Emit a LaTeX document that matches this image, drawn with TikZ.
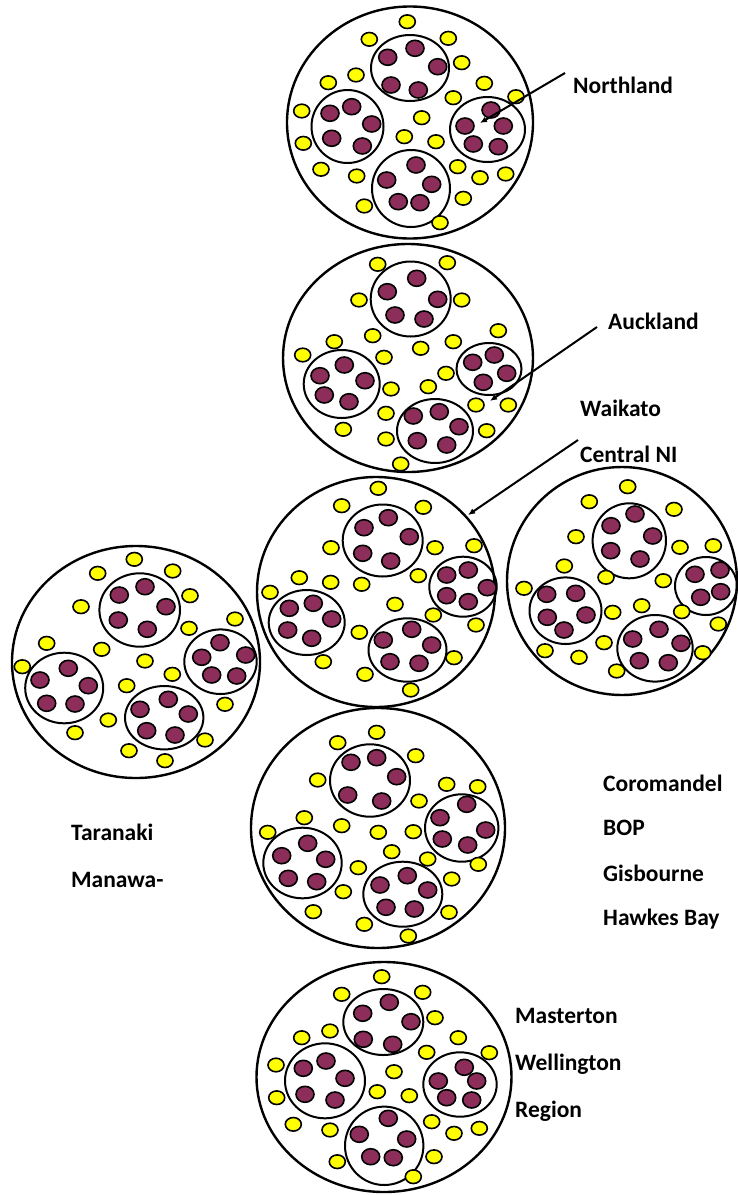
\documentclass[tikz,border=0pt]{standalone}
\usepackage{fontspec}
\setmainfont{Carlito}
\usetikzlibrary{arrows.meta}
\definecolor{yel}{RGB}{255,255,0}
\definecolor{plum}{RGB}{140,45,90}
\tikzset{
  outer/.style={draw=black,line width=2.4pt},
  inner/.style={draw=black,line width=2pt},
  ydot/.style={draw=black,fill=yel,line width=1.6pt},
  pdot/.style={draw=black,fill=plum,line width=1.6pt},
  lbl/.style={anchor=base west,inner sep=0pt,font=\fontsize{23.5}{28}\selectfont\bfseries},
  pointer/.style={draw=black,line width=2pt,-{Latex[length=7pt,width=6pt]}}
}
\newcommand{\ydots}[1]{\foreach \px/\py in {#1} \path[ydot] (\px,\py) ellipse [x radius=8pt,y radius=6.8pt];}
\newcommand{\pdots}[1]{\foreach \px/\py in {#1} \path[pdot] (\px,\py) ellipse [x radius=9pt,y radius=8pt];}
\begin{document}
\begin{tikzpicture}[x=1pt,y=-1pt]
\useasboundingbox (0,0) rectangle (738,1195);
\fill[white] (0,0) rectangle (738,1195);
% ---------- Circle 1 : Northland ----------
\path[outer] (410,122.5) ellipse [x radius=123pt,y radius=116pt];
\path[inner] (410,68) ellipse [x radius=39pt,y radius=33pt];
\path[inner] (347.5,126.5) ellipse [x radius=36pt,y radius=36.5pt];
\path[inner] (487.5,129.5) ellipse [x radius=37.5pt,y radius=32.5pt];
\path[inner] (411,188.5) ellipse [x radius=39pt,y radius=38.5pt];
\pdots{415/48.3,387.7/57.3,437.7/66.7,391/85,418.3/90,
351.7/106.7,330/113.3,371.7/124,331.7/138.3,362.3/146,
491/110,465/126,503.3/126,473.3/144,498.3/146.7,
416/165,386.7/180,431.7/184.3,398.3/201.7,420/202.7}
\ydots{407.3/21.7,369.3/39.3,448.3/38.3,356/75,461.7/62.7,328.3/82.7,484.3/83.3,453.3/97.7,516/96.7,301.7/111,421.7/117.7,303.3/143.3,404.3/136.7,436/141.7,321/169.3,356.7/176,457.7/166.7,480/177.7,505.7/174,364.3/206,463.3/198.3,440/222.7}
% ---------- Circle 2 : Auckland ----------
\path[outer] (408,358) ellipse [x radius=125pt,y radius=114pt];
\path[inner] (410.7,299) ellipse [x radius=40pt,y radius=37.5pt];
\path[inner] (341.7,384) ellipse [x radius=38pt,y radius=34pt];
\path[inner] (489,369) ellipse [x radius=32.5pt,y radius=26pt];
\path[inner] (435,431) ellipse [x radius=38pt,y radius=32pt];
\pdots{416.7/278.3,387.3/291.7,437.7/299.3,395/315,424/319,
344.3/365,320/375.7,365/380.7,324.3/395,349/401.7,
494.3/355,472.7/362.3,506.7/373.3,483.3/382.3,
439.3/411.7,413.3/416,459/426.7,417.3/440.7,446.7/445}
\ydots{377.7/264.3,447.3/262.7,359/300,461.7/300,372.7/335.7,334.3/341.7,453.3/341.7,420.7/348.3,498.3/330.7,302.7/355,384/357.3,446/373.3,391/389,428.3/386.7,386/413.3,476/405,508.3/405,343.3/429.3,386/439,486.7/430.7,400.7/464}
% ---------- Circle 3 : Central ----------
\path[outer] (376,592) ellipse [x radius=119pt,y radius=115pt];
\path[inner] (382.7,540.5) ellipse [x radius=40pt,y radius=36pt];
\path[inner] (463,586.7) ellipse [x radius=33.7pt,y radius=30pt];
\path[inner] (306.7,622.5) ellipse [x radius=38pt,y radius=32.5pt];
\path[inner] (407.5,650) ellipse [x radius=39pt,y radius=31.7pt];
\pdots{388.3/517.7,364/527.7,409.3/536.7,362.7/553.3,390.7/561,
446.7/575,468.3/570,487.3/587.7,446.7/595.7,468.3/601.7,
289.3/608.3,313.3/603.3,331.7/619,287.7/630,311.7/638.3,
411.7/629.3,383.3/640,431.7/645,390/661.7,419/663.3}
\ydots{378.3/488.3,341.7/505.7,423.3/507.3,331/547.7,435/547.7,474/545.7,299.3/577.7,330.7/582.3,361.7/584.3,418.3/575.7,270/592.3,395/604.3,433.3/615,476/625,359.3/632.3,323.3/661.7,454/657.7,365/674.3,410.7/690}
% ---------- Circle 4 : right ----------
\path[outer] (622,581) ellipse [x radius=115pt,y radius=114pt];
\path[inner] (629.3,540.8) ellipse [x radius=36.7pt,y radius=37.5pt];
\path[inner] (706,586) ellipse [x radius=31pt,y radius=29pt];
\path[inner] (565.5,610.7) ellipse [x radius=36pt,y radius=33.3pt];
\path[inner] (655,648.3) ellipse [x radius=37.7pt,y radius=33.3pt];
\pdots{635/514,611/525.7,652.7/536,610.7/550.7,640/559,
695/574.3,720/570,720.7/591.7,700.7/597.3,
546.7/594.3,575.7/593.3,547.3/617.3,586/615,564/630,
659/629.3,632.7/639,681/643.3,639.3/660.7,668.3/662.7}
\ydots{627.7/486.7,589.3/501.7,674/509.3,576/536.7,680/547.3,713.3/545.7,564.3/566,606/577.3,663.3/580.7,524/588.3,612.7/612.3,641.7/605.7,681.7/611.7,718.3/624,545/650.7,579/657.3,604/642.7,702.7/652.7,616.7/671}
% ---------- Circle 5 : left ----------
\path[outer] (136,662) ellipse [x radius=124pt,y radius=116pt];
\path[inner] (139.7,610) ellipse [x radius=40.3pt,y radius=36.7pt];
\path[inner] (220.5,661.7) ellipse [x radius=36.2pt,y radius=32.3pt];
\path[inner] (64.2,688) ellipse [x radius=39pt,y radius=35.3pt];
\path[inner] (164.2,717.7) ellipse [x radius=39.2pt,y radius=31.7pt];
\pdots{145/586.7,119.3/595,166/606.7,118.3/620,147.3/629.3,
220/642.7,201.7/657.3,245.7/655,211.7/675,236.7/676,
68.3/668.3,40/680,88.3/685.7,46.7/703.3,75/704,
168.3/699.3,140/709.3,188.3/714,146.7/730.7,175/735}
\ydots{134.3/559.3,97.7/573.3,172.7/571,81/606.7,190/595.7,189/628.3,235/619,46.7/643.3,101.7/649.3,145/661,22.3/666.7,172.3/674.3,126.7/685.7,225/704.3,108.3/720,75/732.7,205/740,129/750.7,165/760.7}
% ---------- Circle 6 : lower middle ----------
\path[outer] (378,828) ellipse [x radius=127pt,y radius=120pt];
\path[inner] (370,780.5) ellipse [x radius=40pt,y radius=36.2pt];
\path[inner] (461.7,828) ellipse [x radius=36.7pt,y radius=33.7pt];
\path[inner] (302.5,863) ellipse [x radius=39.2pt,y radius=35.3pt];
\path[inner] (402.8,894.2) ellipse [x radius=39.5pt,y radius=32.5pt];
\pdots{376.7/757.7,351/762.3,396.7/776.7,347.7/795,381.7/801,
466.7/804.3,440/817.7,485.7/830,442.3/839,467.7/845,
307.7/843.3,281.7/855.7,325.7/859.3,288.3/878.3,316.7/881.7,
407.3/875.7,380/885,427.7/890,386/907.3,414.3/909}
\ydots{376.7/732.3,337.7/742.7,415.7/755.7,317.7/780,446.7/784.3,477.7/786.7,419/801,304.3/817.7,341.7/825.7,378.3/832.3,413.3/831.7,267.7/832.3,391.7/851.7,427.7/859,478.3/864.3,358.3/867.7,451.7/879,343.3/891.7,313.3/911.7,449/912.3,364.3/924.3,408.3/936}
% ---------- Circle 7 : bottom ----------
\path[outer] (384,1077) ellipse [x radius=127.5pt,y radius=115pt];
\path[inner] (383.3,1022) ellipse [x radius=40pt,y radius=33pt];
\path[inner] (325,1080.8) ellipse [x radius=40pt,y radius=37.5pt];
\path[inner] (460,1084.5) ellipse [x radius=36.7pt,y radius=32.2pt];
\path[inner] (384.2,1145.8) ellipse [x radius=39.2pt,y radius=39.2pt];
\pdots{389.3/1002.3,362.7/1013.3,411/1021.7,363.3/1039.3,392.7/1044.3,
326/1061,303.3/1068.3,345/1078.3,305/1094.3,335/1100,
464.3/1067.3,438.3/1081,476.7/1081,446.7/1097.7,471.7/1100,
388.3/1118.3,359.3/1134.3,406.7/1139,370.7/1156.7,393.3/1157.7}
\ydots{381.7/976.7,341.7/994.3,422.7/992.3,435/1017.7,330/1031,301.7/1037.7,458.3/1037.7,426.7/1052.3,489.3/1052.7,276/1065,394/1071.7,377.3/1091.7,409.3/1095.7,276.7/1097.7,293.3/1124.3,330/1130,431.7/1121.7,454/1133.3,479.3/1128.3,337.3/1161.7,434/1156.7,413.3/1176.7}
% ---------- Labels ----------
\node[lbl] (northland) at (573,93) {Northland};
\node[lbl] (auckland) at (608,329) {Auckland};
\node[lbl] (waikato) at (580,416) {Waikato};
\node[lbl] (centralni) at (580,462) {Central NI};
\node[lbl] (taranaki) at (71,840) {Taranaki};
\node[lbl] (manawa) at (71,887) {Manawa-};
\node[lbl] (coromandel) at (603,791) {Coromandel};
\node[lbl] (bop) at (603,835) {BOP};
\node[lbl] (gisbourne) at (603,881) {Gisbourne};
\node[lbl] (hawkes) at (603,925) {Hawkes Bay};
\node[lbl] (masterton) at (515,1023) {Masterton};
\node[lbl] (wellington) at (515,1070) {Wellington};
\node[lbl] (region) at (515,1117) {Region};
% ---------- Pointers ----------
\coordinate (nA) at (565,73);
\coordinate (nB) at (480,123);
\coordinate (aA) at (597,327);
\coordinate (aB) at (490,401);
\coordinate (cA) at (578,440);
\coordinate (cB) at (468,515);
\draw[pointer] (nA) -- (nB);
\draw[pointer] (aA) -- (aB);
\draw[pointer] (cA) -- (cB);
\end{tikzpicture}
\end{document}
